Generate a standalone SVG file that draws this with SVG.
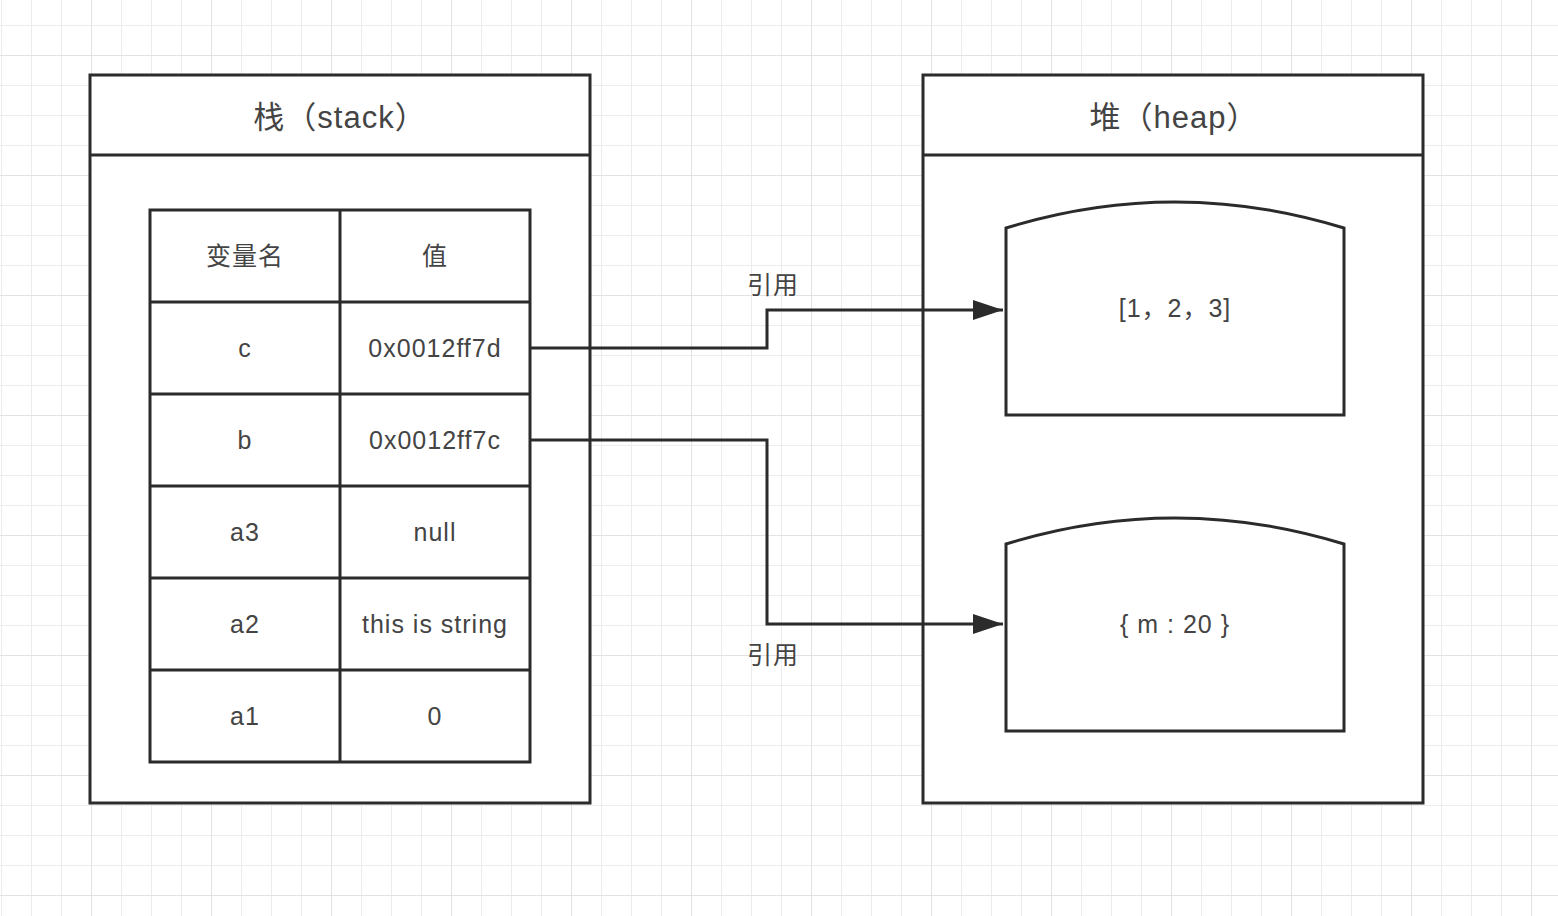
<svg xmlns="http://www.w3.org/2000/svg" width="1558" height="916" viewBox="0 0 1558 916">
<defs>
<pattern id="minor" width="30" height="30" patternUnits="userSpaceOnUse" x="1" y="25">
<path d="M0,0 H30 M0,0 V30" fill="none" stroke="#ececec" stroke-width="2"/>
</pattern>
<pattern id="major" width="120" height="120" patternUnits="userSpaceOnUse" x="91" y="55">
<path d="M0,0 H120 M0,0 V120" fill="none" stroke="#e2e2e2" stroke-width="2"/>
</pattern>
<marker id="arrow" viewBox="0 0 30 20" refX="30" refY="10" markerWidth="30" markerHeight="20" orient="auto" markerUnits="userSpaceOnUse">
<path d="M0,0 L30,10 L0,20 L0,0 Z" fill="#2b2b2b"/>
</marker>
</defs>
<style>
.box{fill:#fff;stroke:#2b2b2b;stroke-width:3}
.ln{fill:none;stroke:#2b2b2b;stroke-width:3}
.t{font-family:"PingFang SC","Liberation Sans","Noto Sans CJK SC",sans-serif;fill:#444;text-anchor:middle;dominant-baseline:central}
.c{font-size:25px;letter-spacing:1px}
.h{font-size:31px;letter-spacing:1px}
.conn{fill:none;stroke:#2b2b2b;stroke-width:3}
</style>
<rect width="1558" height="916" fill="#fff"/>
<rect width="1558" height="916" fill="url(#minor)"/>
<rect width="1558" height="916" fill="url(#major)"/>

<g id="stack">
<rect class="box" x="90" y="75" width="500" height="728"/>
<line class="ln" x1="90" y1="155" x2="590" y2="155"/>
<text class="t h" x="340" y="117">栈（stack）</text>
</g>

<g id="heap">
<rect class="box" x="923" y="75" width="500" height="728"/>
<line class="ln" x1="923" y1="155" x2="1423" y2="155"/>
<text class="t h" x="1174" y="117">堆（heap）</text>
</g>

<g id="table">
<rect class="box" x="150" y="210" width="380" height="552"/>
<line class="ln" x1="340" y1="210" x2="340" y2="762"/>
<line class="ln" x1="150" y1="302" x2="530" y2="302"/>
<line class="ln" x1="150" y1="394" x2="530" y2="394"/>
<line class="ln" x1="150" y1="486" x2="530" y2="486"/>
<line class="ln" x1="150" y1="578" x2="530" y2="578"/>
<line class="ln" x1="150" y1="670" x2="530" y2="670"/>
<text class="t c" x="245" y="256">变量名</text>
<text class="t c" x="435" y="256">值</text>
<text class="t c" x="245" y="348">c</text>
<text class="t c" x="435" y="348">0x0012ff7d</text>
<text class="t c" x="245" y="440">b</text>
<text class="t c" x="435" y="440">0x0012ff7c</text>
<text class="t c" x="245" y="532">a3</text>
<text class="t c" x="435" y="532">null</text>
<text class="t c" x="245" y="624">a2</text>
<text class="t c" x="435" y="624">this is string</text>
<text class="t c" x="245" y="716">a1</text>
<text class="t c" x="435" y="716">0</text>
</g>

<g id="heap-array">
<path class="box" d="M1006,228 Q1175,176 1344,228 L1344,415 L1006,415 Z"/>
<text class="t c" x="1175" y="308">[1，2，3]</text>
</g>

<g id="heap-object">
<path class="box" d="M1006,544 Q1175,492 1344,544 L1344,731 L1006,731 Z"/>
<text class="t c" x="1175" y="624">{ m : 20 }</text>
</g>

<g id="connectors">
<path class="conn" d="M530,348 H767 V310 H1003" marker-end="url(#arrow)"/>
<path class="conn" d="M530,440 H767 V624 H1003" marker-end="url(#arrow)"/>
<text class="t c" x="773" y="285">引用</text>
<text class="t c" x="773" y="655">引用</text>
</g>
</svg>
